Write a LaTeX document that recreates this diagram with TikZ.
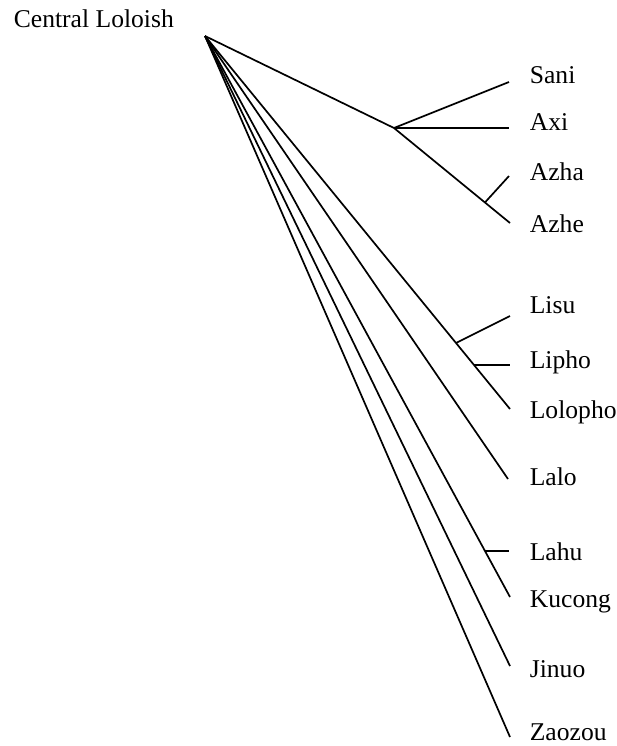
\documentclass[tikz,border=0pt]{standalone}
\usepackage{fontspec}
\setmainfont{Liberation Serif}
\usetikzlibrary{calc}

\begin{document}
\begin{tikzpicture}[x=0.5pt,y=-0.5pt,line width=0.85pt,
  lang/.style={anchor=base west, inner sep=0pt, font=\fontsize{12.8}{15}\selectfont}]
\useasboundingbox (0,0) rectangle (617,746);
% root
\node[lang] (cl) at (13,27) {Central Loloish};
\coordinate (root) at (205,36);
% branch ends
\coordinate (ng) at (394,128);
\coordinate (saniE) at (509,82);
\coordinate (axiE) at (509,128);
\coordinate (azhaE) at (509,176);
\coordinate (azheE) at (510,223);
\coordinate (lisuE) at (510,316);
\coordinate (liphoE) at (510,363);
\coordinate (lolophoE) at (510,409);
\coordinate (laloE) at (508,479);
\coordinate (lahuE) at (509,550);
\coordinate (kucongE) at (510,597);
\coordinate (jinuoE) at (510,666);
\coordinate (zaozouE) at (510,737);
% side branches join the longer lines
\coordinate (azhaJ) at ($(ng)!0.784!(azheE)$);
\coordinate (lisuJ) at ($(root)!0.823!(lolophoE)$);
\coordinate (liphoJ) at ($(root)!0.882!(lolophoE)$);
\coordinate (lahuJ) at ($(root)!0.918!(kucongE)$);
% Sani group
\draw (root) -- (ng);
\draw (ng) -- (saniE);
\draw (ng) -- (ng -| axiE);
\draw (ng) -- (azheE);
\draw (azhaJ) -- (azhaE);
% Lisu group
\draw (root) -- (lolophoE);
\draw (lisuJ) -- (lisuE);
\draw (liphoJ) -- (liphoJ -| liphoE);
% the rest
\draw (root) -- (laloE);
\draw (root) -- (kucongE);
\draw (lahuJ) -- (lahuJ -| lahuE);
\draw (root) -- (jinuoE);
\draw (root) -- (zaozouE);
% leaf names
\node[lang] (sani) at (529,83) {Sani};
\node[lang] (axi) at (529,130) {Axi};
\node[lang] (azha) at (529,180) {Azha};
\node[lang] (azhe) at (529,232) {Azhe};
\node[lang] (lisu) at (529,313) {Lisu};
\node[lang] (lipho) at (529,368) {Lipho};
\node[lang] (lolopho) at (529,418) {Lolopho};
\node[lang] (lalo) at (529,485) {Lalo};
\node[lang] (lahu) at (529,560) {Lahu};
\node[lang] (kucong) at (529,607) {Kucong};
\node[lang] (jinuo) at (529,677) {Jinuo};
\node[lang] (zaozou) at (529,740) {Zaozou};
\end{tikzpicture}
\end{document}
